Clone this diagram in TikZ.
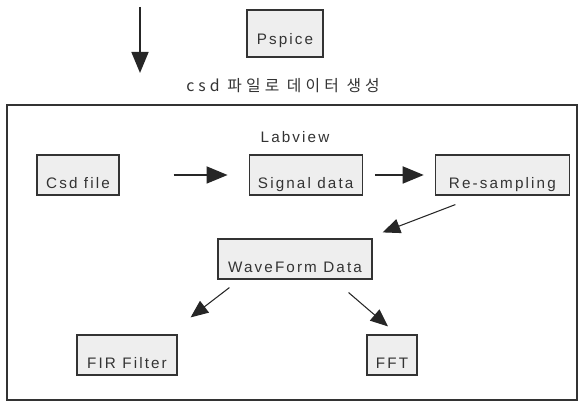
\documentclass[tikz,border=0pt]{standalone}
\usepackage{fontspec}
\setmainfont[LetterSpace=14]{Liberation Sans}
\newfontfamily\hangul[LetterSpace=26]{Noto Sans CJK KR}
\usetikzlibrary{arrows.meta,positioning}
\definecolor{boxfill}{HTML}{EEEEEE}
\definecolor{ink}{HTML}{333333}
\tikzstyle{block} = [draw=ink, fill=boxfill, rectangle, line width=1pt, inner sep=0pt,
    text=ink, font=\fontsize{13}{15}\selectfont,
    minimum height=1.2cm, text height=1.02cm, text depth=0.18cm]
\tikzstyle{bigline} = [line width=1.6pt, draw=black!85, -{Triangle[length=18pt,width=14.5pt]}]
\tikzstyle{thinline} = [line width=0.9pt, draw=black!85, -{Triangle[length=15pt,width=12.5pt]}]

\begin{document}
\begin{tikzpicture}[x=0.03cm, y=-0.03cm]

\useasboundingbox (0,0) rectangle (579,405);

\coordinate (arrtop) at (140,7);
\coordinate (arrbot) at (140,73);
\draw [bigline] (arrtop) -- (arrbot);

\node [block, minimum width=2.28cm, text height=1.05cm, text depth=0.36cm] (pspice) at (285,33.5) {Pspice};
\node [text=ink, font=\hangul\fontsize{13.5}{15}\selectfont] (csdtext) at (283,86) {csd 파일로 데이터 생성};

\draw [draw=black!80, line width=1.2pt] (7,105) rectangle (577,400);

\node [text=ink, font=\fontsize{13}{15}\selectfont] (labview) at (295,137) {Labview};
\node [block, minimum width=2.46cm] (csdfile) at (78,175) {Csd file};
\node [block, minimum width=3.39cm, right=3.87cm of csdfile] (signal) {Signal data};
\node [block, minimum width=4.02cm, right=2.16cm of signal] (resamp) {Re-sampling};
\node [block, minimum width=4.62cm] (wave) at (295,259) {WaveForm Data};
\node [block, minimum width=3.0cm] (fir) at (127,355) {FIR Filter};
\node [block, minimum width=1.5cm] (fft) at (392,355) {FFT};

\draw [bigline, shorten <=1.62cm, shorten >=0.63cm] (csdfile) -- (signal);
\draw [bigline, shorten <=0.36cm, shorten >=0.33cm] (signal) -- (resamp);
\draw [thinline] ([xshift=-1.41cm, yshift=-0.27cm]resamp.south) -- ([xshift=0.3cm, yshift=0.18cm]wave.north east);
\draw [thinline] ([xshift=0.36cm, yshift=-0.24cm]wave.south west) -- ([xshift=0.39cm, yshift=0.51cm]fir.north east);
\draw [thinline] ([xshift=-0.72cm, yshift=-0.39cm]wave.south east) -- ([xshift=-0.12cm, yshift=0.24cm]fft.north);

\end{tikzpicture}
\end{document}
